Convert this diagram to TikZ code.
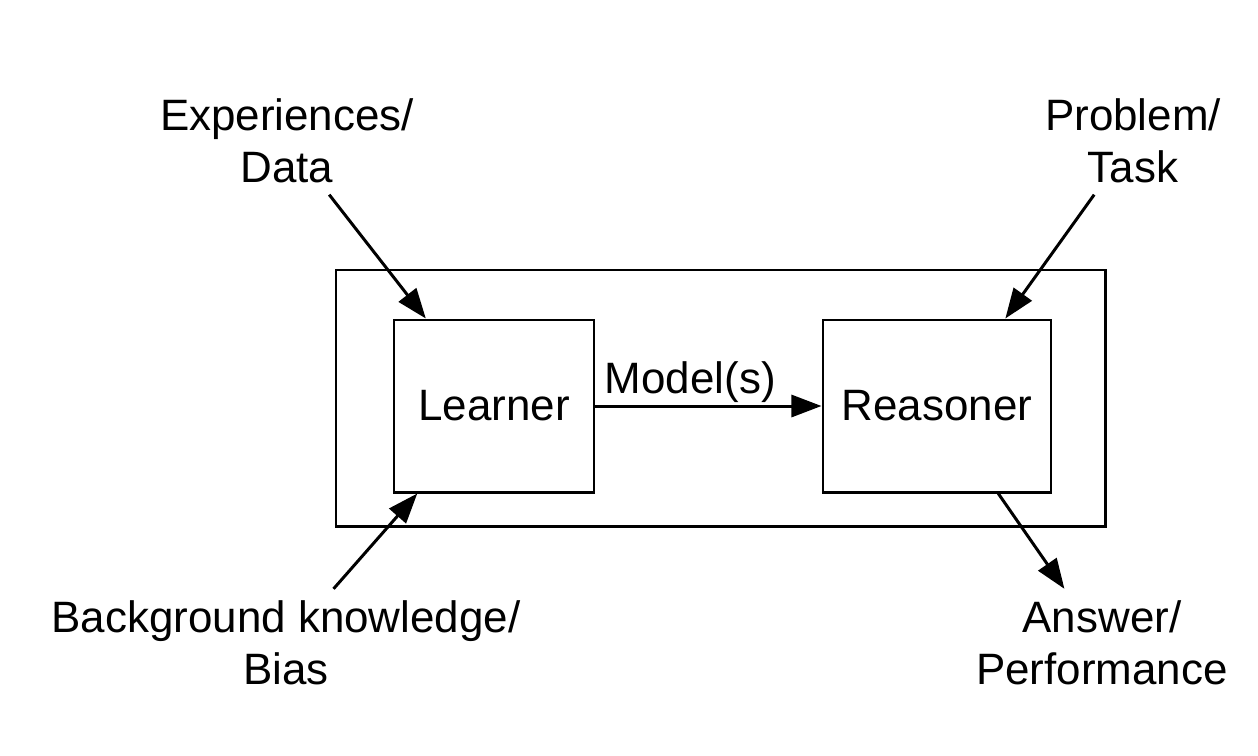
\documentclass[tikz,border=0pt]{standalone}
\usepackage{fontspec}
\setmainfont{Liberation Sans}
\usetikzlibrary{arrows.meta,positioning}

\begin{document}
\begin{tikzpicture}[->,>={Triangle[length=3mm,width=2.2mm]},line width=0.85pt,
                    node distance=2.26cm,
                    font=\fontsize{12.5}{14.8}\selectfont,
                    block/.style={draw, inner sep=1pt, minimum width=2cm, minimum height=1.72cm},
                    io/.style={align=center, inner sep=3pt}]
  \useasboundingbox (0,0) rectangle (12.58,-7.56);

  \node[draw, minimum width=7.69cm, minimum height=2.56cm] (system) at (7.205,-3.98) {};
  \node[block] (learner) at (4.94,-4.06) {Learner};
  \node[block, right=of learner, minimum width=2.28cm] (reasoner) {Reasoner};

  \node[io] (exp) at (2.87,-1.405) {Experiences/\\Data};
  \node[io] (prob) at (11.33,-1.405) {Problem/\\Task};
  \node[io] (bg) at (2.86,-6.43) {Background knowledge/\\Bias};
  \node[io] (ans) at (11.02,-6.43) {Answer/\\Performance};

  \path (exp) edge (learner)
        (prob) edge (reasoner.52)
        (bg) edge (learner)
        (reasoner.-55) edge (ans)
        (learner) edge node [above, pos=0.42, inner sep=0.5pt] {Model(s)} (reasoner)
;
\end{tikzpicture}
\end{document}
